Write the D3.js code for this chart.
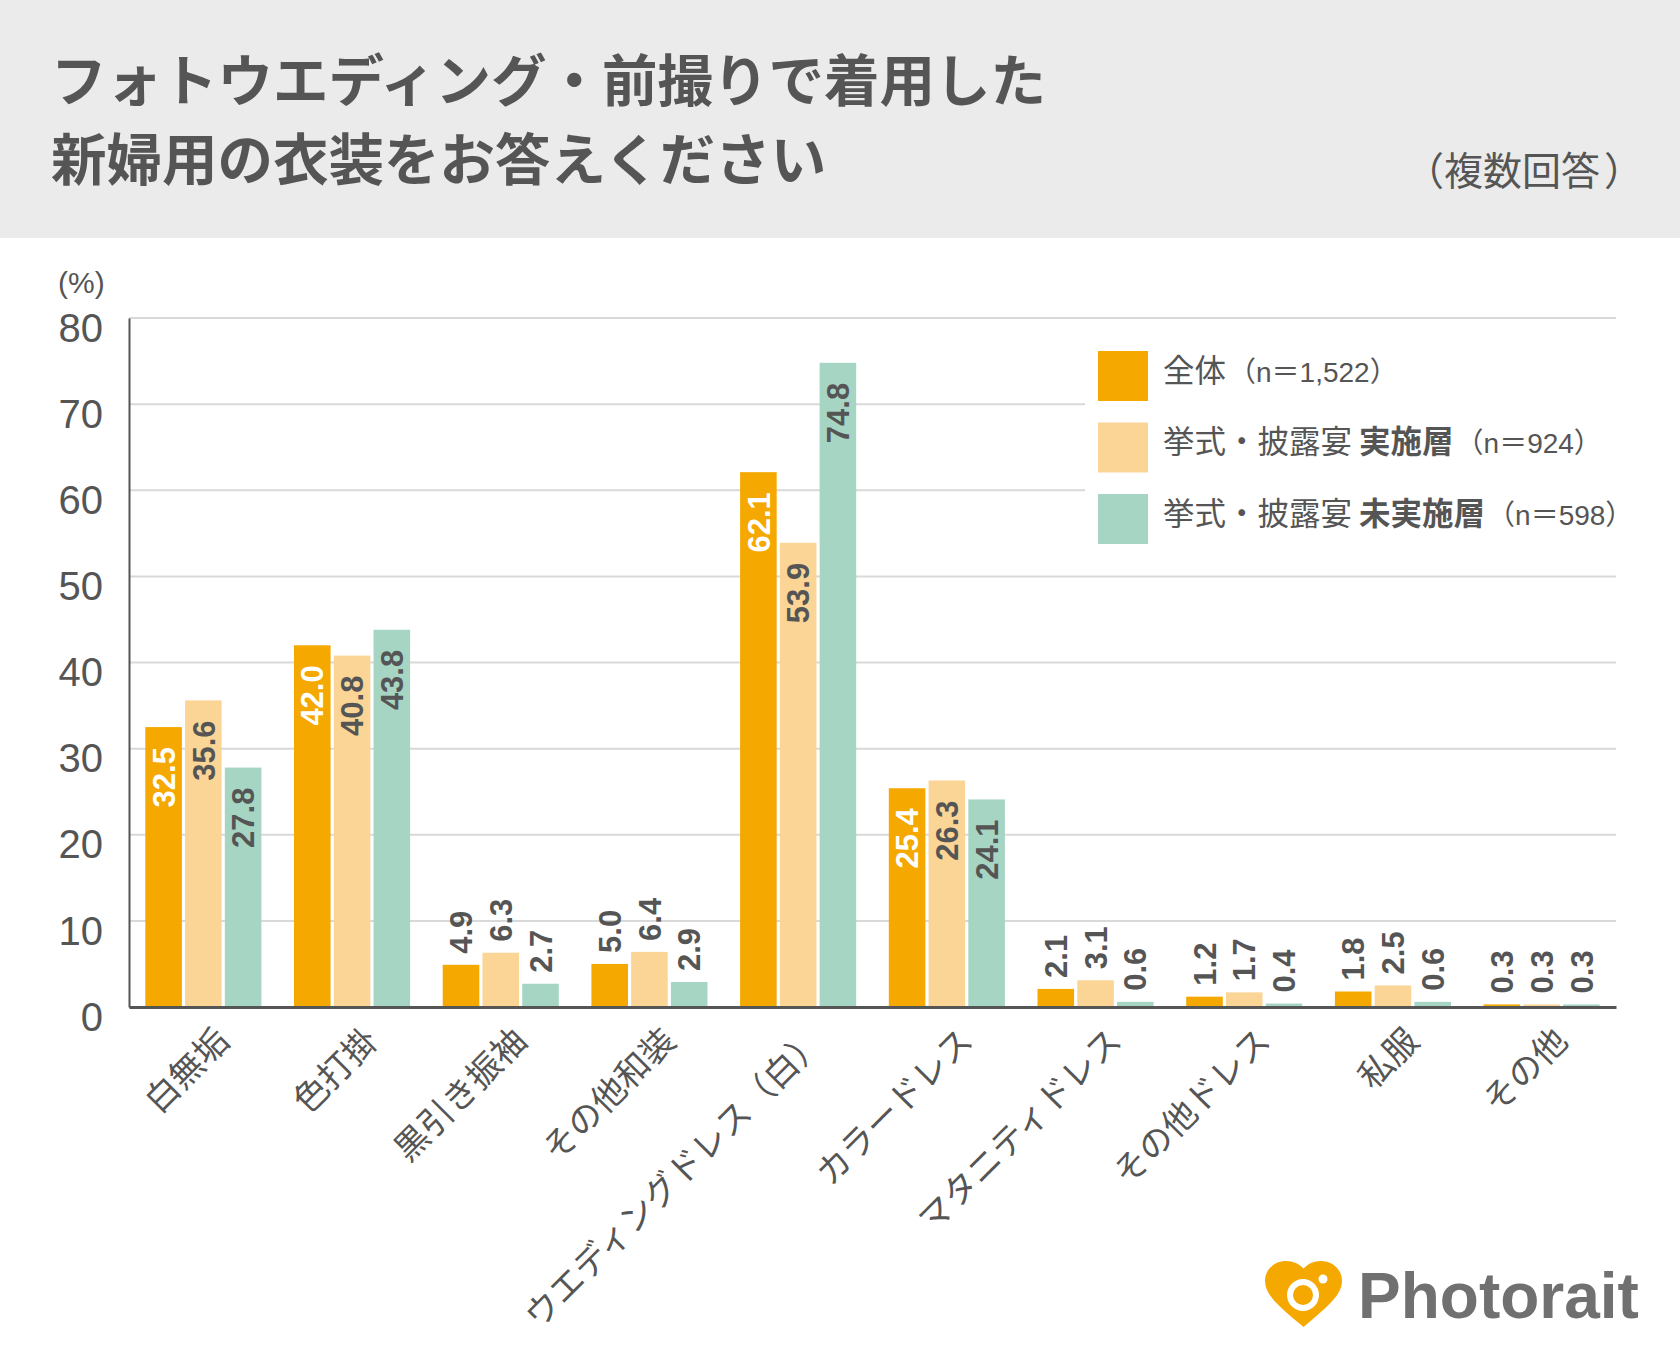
<!DOCTYPE html>
<html>
<head>
<meta charset="utf-8">
<script src="https://cdn.jsdelivr.net/npm/d3@7"></script>
<style>
body { margin: 0; background: #fff; }
</style>
</head>
<body>
<div id="chart"></div>
<script>
var categories = ["白無垢", "色打掛", "黒引き振袖", "その他和装", "ウエディングドレス（白）", "カラードレス", "マタニティドレス", "その他ドレス", "私服", "その他"];
var seriesKeys = ["all", "held", "notHeld"];
var allValues = [32.5, 42.0, 4.9, 5.0, 62.1, 25.4, 2.1, 1.2, 1.8, 0.3];
var heldValues = [35.6, 40.8, 6.3, 6.4, 53.9, 26.3, 3.1, 1.7, 2.5, 0.3];
var notHeldValues = [27.8, 43.8, 2.7, 2.9, 74.8, 24.1, 0.6, 0.4, 0.6, 0.3];
var yTicks = [0, 10, 20, 30, 40, 50, 60, 70, 80];
var legendNames = [["全体", "", "（n＝1,522）"], ["挙式・披露宴 ", "実施層", "（n＝924）"], ["挙式・披露宴 ", "未実施層", "（n＝598）"]];

var colors = ["#F5A800", "#FAD595", "#A6D5C3"];
var textColor = "#555";
var jpFont = "'Noto Sans CJK JP', sans-serif";
var numFont = "'Liberation Sans', Arial, 'Noto Sans CJK JP', sans-serif";

var seriesValues = [allValues, heldValues, notHeldValues];
var rows = categories.map(function(c, i) {
	return { cat: c, vals: seriesKeys.map(function(k, j) { return { key: k, idx: j, value: seriesValues[j][i] }; }) };
});

var svg = d3.select("#chart").append("svg")
	.attr("width", 1680)
	.attr("height", 1360)
	.attr("font-family", jpFont);

svg.append("rect").attr("width", 1680).attr("height", 1360).attr("fill", "#fff");

// header band
svg.append("rect").attr("width", 1680).attr("height", 238).attr("fill", "#EBEBEB");
svg.append("text").attr("x", 51).attr("y", 101)
	.attr("font-size", 55.5).attr("font-weight", 700).attr("fill", textColor)
	.text("フォトウエディング・前撮りで着用した");
svg.append("text").attr("x", 51).attr("y", 180)
	.attr("font-size", 55.5).attr("font-weight", 700).attr("fill", textColor)
	.text("新婦用の衣装をお答えください");
var note = svg.append("text").attr("y", 185)
	.attr("font-size", 39).attr("fill", textColor);
note.append("tspan").attr("x", 1405).text("（");
note.append("tspan").attr("x", 1444).text("複数回答");
note.append("tspan").attr("x", 1604).text("）");

var plotLeft = 129, plotRight = 1616, plotTop = 318, plotBottom = 1007;

var x = d3.scaleBand().domain(categories).range([plotLeft, plotRight]).padding(0);
var xSub = d3.scaleBand().domain(seriesKeys).range([0, x.bandwidth()])
	.paddingInner(0.08).paddingOuter(0.41);
var y = d3.scaleLinear().domain([0, 80]).range([plotBottom, plotTop]);

// gridlines
svg.append("g").selectAll("line")
	.data(yTicks.filter(function(t) { return t > 0; }))
	.join("line")
	.attr("x1", plotLeft).attr("x2", plotRight)
	.attr("y1", function(d) { return y(d); })
	.attr("y2", function(d) { return y(d); })
	.attr("stroke", "#D9D9D9").attr("stroke-width", 2);

// legend box hides the grid behind it
svg.append("rect").attr("x", 1085).attr("y", 335).attr("width", 540).attr("height", 225).attr("fill", "#fff");

var legend = svg.append("g").selectAll("g")
	.data(legendNames)
	.join("g")
	.attr("transform", function(d, i) { return "translate(1098," + (351 + i * 71.5) + ")"; });
legend.append("rect")
	.attr("width", 50).attr("height", 50)
	.attr("fill", function(d, i) { return colors[i]; });
var lt = legend.append("text")
	.attr("x", 65).attr("y", 25).attr("dy", "0.36em")
	.attr("fill", textColor);
lt.append("tspan").attr("font-size", 31.5).text(function(d) { return d[0]; });
lt.append("tspan").attr("font-size", 31.5).attr("font-weight", 700).text(function(d) { return d[1]; });
lt.append("tspan").attr("font-size", 28).attr("dx", 2).attr("font-family", numFont).text(function(d) { return d[2]; });

// y axis
var yAxis = svg.append("g")
	.attr("transform", "translate(" + plotLeft + ",0)")
	.call(d3.axisLeft(y).tickValues(yTicks).tickSize(0).tickPadding(26));
yAxis.select(".domain").attr("stroke", textColor).attr("stroke-width", 2);
yAxis.selectAll("text")
	.attr("dy", "0.58em")
	.attr("font-family", numFont).attr("font-size", 40).attr("fill", textColor);

svg.append("text").attr("x", 58).attr("y", 293)
	.attr("font-family", numFont).attr("font-size", 30).attr("fill", textColor)
	.text("(%)");

// bars
var groups = svg.append("g").selectAll("g")
	.data(rows)
	.join("g")
	.attr("transform", function(d) { return "translate(" + x(d.cat) + ",0)"; });

groups.selectAll("rect")
	.data(function(d) { return d.vals; })
	.join("rect")
	.attr("x", function(d) { return xSub(d.key); })
	.attr("y", function(d) { return y(d.value); })
	.attr("width", xSub.bandwidth())
	.attr("height", function(d) { return y(0) - y(d.value); })
	.attr("fill", function(d) { return colors[d.idx]; });

groups.selectAll("text")
	.data(function(d) { return d.vals; })
	.join("text")
	.attr("transform", function(d) {
		var cx = xSub(d.key) + xSub.bandwidth() / 2;
		var yy = d.value >= 10 ? y(d.value) + 20 : y(d.value) - 11;
		return "translate(" + cx + "," + yy + ") rotate(-90)";
	})
	.attr("text-anchor", function(d) { return d.value >= 10 ? "end" : "start"; })
	.attr("dy", "0.36em")
	.attr("font-family", numFont).attr("font-size", 31).attr("font-weight", 700)
	.attr("fill", function(d) { return d.value >= 10 && d.idx === 0 ? "#fff" : textColor; })
	.text(function(d) { return d.value.toFixed(1); });

// x axis
var xAxis = svg.append("g")
	.attr("transform", "translate(0," + plotBottom + ")")
	.call(d3.axisBottom(x).tickSize(0).tickSizeOuter(0));
xAxis.select(".domain").attr("stroke", textColor).attr("stroke-width", 3);
xAxis.selectAll("text")
	.attr("x", 0).attr("y", 0).attr("dy", null)
	.attr("transform", "translate(28,36) rotate(-45)")
	.attr("text-anchor", "end")
	.attr("font-family", jpFont)
	.attr("font-size", 34).attr("fill", textColor);

// logo
var logo = svg.append("g");
logo.append("path")
	.attr("d", "M12 21.35l-1.45-1.32C5.4 15.36 2 12.28 2 8.5 2 5.42 4.42 3 7.5 3c1.74 0 3.41.81 4.5 2.09C13.09 3.81 14.76 3 16.5 3 19.58 3 22 5.42 22 8.5c0 3.78-3.4 6.86-8.55 11.54L12 21.35z")
	.attr("transform", "translate(1257.3,1250.2) scale(3.85,3.6)")
	.attr("fill", "#F5A800");
logo.append("circle").attr("cx", 1303).attr("cy", 1295).attr("r", 13)
	.attr("fill", "none").attr("stroke", "#fff").attr("stroke-width", 6);
logo.append("circle").attr("cx", 1323).attr("cy", 1279).attr("r", 4.5).attr("fill", "#fff");
logo.append("text").attr("x", 1358).attr("y", 1318)
	.attr("font-family", numFont).attr("font-size", 64).attr("font-weight", 700)
	.attr("fill", "#707070")
	.text("Photorait");
</script>
</body>
</html>
